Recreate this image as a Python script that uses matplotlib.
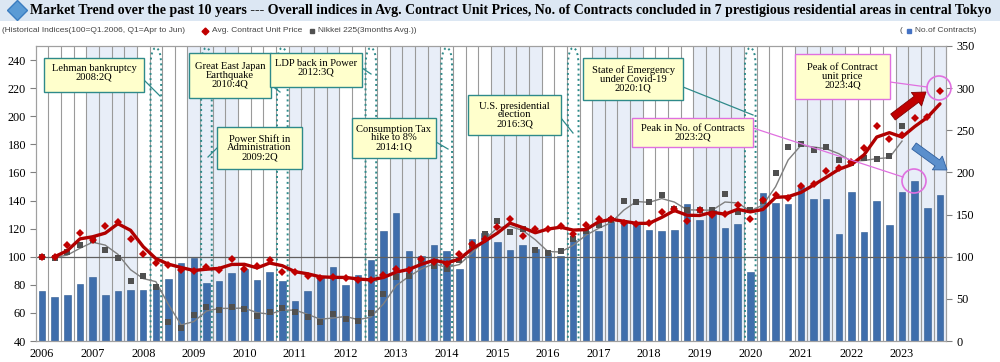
import numpy as np
import pandas as pd
import matplotlib
matplotlib.use('Agg')
import matplotlib.pyplot as plt
from matplotlib.patches import Rectangle, Circle, FancyArrow, PathPatch
from matplotlib.path import Path
from matplotlib.lines import Line2D

# Quarters 2006Q1 .. 2023Q4 (Q1 = Apr to Jun)
years = list(range(2006, 2024))
quarters = ['%dQ%d' % (y, q) for y in years for q in range(1, 5)]

# No. of contracts (right axis)
contracts = [59, 52, 54, 68, 76, 54, 59, 61, 61, 63, 74, 93,
             99, 69, 71, 81, 86, 72, 82, 71, 47, 59, 76, 88,
             66, 78, 96, 130, 152, 107, 101, 114, 107, 86, 121, 128,
             118, 108, 114, 109, 105, 101, 120, 130, 130, 141, 140, 139,
             132, 130, 132, 163, 144, 156, 134, 139, 82, 176, 164, 162,
             184, 168, 168, 127, 177, 129, 166, 138, 177, 190, 158, 173]

# Avg. contract unit price index (100 = Q1.2006)
unit_price = [100, 100, 108.6, 116.8, 111.6, 122, 125, 112.6,
              101.7, 95.6, 93.8, 90.8, 89.6, 92.6, 90.8, 98.2,
              91, 93.1, 97.9, 89.3, 89.4, 86.3, 85.1, 85.5,
              85, 83.3, 83.7, 86.8, 91.3, 90.6, 98.6, 96.5,
              94.6, 102, 109.3, 112.6, 121, 126.8, 114.7, 119.4,
              120, 122, 115.9, 122.7, 126.8, 126.5, 124, 123.5,
              124, 132, 133.8, 125.3, 133.4, 130, 130.5, 137,
              126.8, 140.5, 144, 141.5, 150, 152, 161, 163.4,
              167.7, 177.4, 193, 183.6, 186.8, 198.5, 199.8, 217.8]

# Nikkei 225 (3 months avg.), index
nikkei = [100, 98.9, 103.4, 108.6, 112, 104.5, 98.9, 82.6,
          86.3, 78.2, 53.7, 49.2, 58.4, 64.2, 62.2, 64.3,
          62.6, 57.7, 60.6, 63.2, 60.8, 57.2, 53.8, 58.9,
          56, 54.4, 59.6, 73.3, 85.6, 86.1, 96.7, 93.2,
          91.5, 97.4, 108, 116, 125.3, 117.8, 119.7, 104.5,
          102.9, 103.8, 112.5, 118, 122.3, 126.3, 140, 138.6,
          138.8, 144, 133.8, 133, 133.4, 132.9, 145, 131.5,
          133.6, 140, 159.6, 178.2, 180.2, 176, 177.8, 168.9,
          167, 170, 169.6, 171.4, 193.2, np.nan, np.nan, np.nan]

year_labels = [str(y) for y in years]
event_quarters = ['2008Q2', '2009Q2', '2010Q4', '2012Q3', '2014Q1', '2016Q3', '2020Q1']

BAR = '#3F6EAC'
RED = '#C00000'
GRAY = '#505050'
TEAL = '#2E8A8A'
PINK = '#E070E0'
BOX_FILL = '#FFFFCC'
SERIF = 'Liberation Serif'

W_PX, H_PX = 1000, 362
fig = plt.figure(figsize=(W_PX / 100, H_PX / 100), dpi=100)
fig.patch.set_facecolor('white')


def px(x, y):
    'pixel (from top-left) -> inches for dpi_scale_trans'
    return x / 100.0, (H_PX - y) / 100.0


T = fig.dpi_scale_trans

# title band
fig.add_artist(Rectangle(px(0, 21), 10, 0.21, transform=T, facecolor='#DCE7F3',
                         edgecolor='none', zorder=0))
fig.add_artist(Line2D([px(17, 10)[0]], [px(17, 10)[1]], marker='D', ms=10,
                      color='#5B9BD5', mec='#3C7DC0', transform=T))
fig.text(*px(30, 10.5), 'Market Trend over the past 10 years --- Overall indices in Avg. Contract Unit Prices, '
         'No. of Contracts concluded in 7 prestigious residential areas in central Tokyo',
         transform=T, ha='left', va='center', fontsize=10.0, fontweight='bold', family=SERIF)

# legend row
small = dict(transform=T, ha='left', va='center', fontsize=6.0, color='#444444', family='Liberation Sans')
fig.text(*px(2, 31), '(Historical Indices(100=Q1.2006, Q1=Apr to Jun)', **small)
fig.add_artist(Line2D([px(205, 31)[0]], [px(205, 31)[1]], marker='D', ms=3.5, color=RED, transform=T))
fig.text(*px(212, 31), 'Avg. Contract Unit Price', **small)
fig.add_artist(Line2D([px(312, 31)[0]], [px(312, 31)[1]], marker='s', ms=3.5, color=GRAY, transform=T))
fig.text(*px(318, 31), 'Nikkei 225(3months Avg.))', **small)
fig.text(*px(900, 31), '(', **small)
fig.add_artist(Line2D([px(909, 31)[0]], [px(909, 31)[1]], marker='s', ms=3.5, color='#4472C4', transform=T))
fig.text(*px(915, 31), 'No.of Contracts)', **small)

# axes
left, right, top, bottom = 35.7, 946.3, 46, 341
ax = fig.add_axes([left / W_PX, 1 - bottom / H_PX, (right - left) / W_PX, (bottom - top) / H_PX])
ax2 = ax.twinx()
ax.set_zorder(ax2.get_zorder() + 1)
ax.patch.set_visible(False)
ax2.patch.set_visible(True)
ax2.patch.set_facecolor('white')

x = np.arange(len(quarters))
ax.set_xlim(-0.5, len(quarters) - 0.5)
ax.set_ylim(40, 250)
ax2.set_ylim(0, 350)

# alternate year shading and quarter grid
for k, y in enumerate(years):
    if y % 2 == 1:
        ax2.axvspan(4 * k - 0.5, 4 * k + 3.5, color='#E8EEF8', lw=0, zorder=0)
for b in x[:-1]:
    ax2.axvline(b + 0.5, color='#9A9A9A', lw=0.8, zorder=1)

ax2.bar(x, contracts, width=0.52, color=BAR, edgecolor='#2E5A90', lw=0.4, zorder=2)

ax.axhline(100, color='#606060', lw=0.9, zorder=1)

# event highlight shapes
for q in event_quarters:
    i = quarters.index(q)
    verts = [(i - 0.42, 35), (i - 0.42, 236), (i - 0.42, 253), (i + 0.42, 253),
             (i + 0.42, 236), (i + 0.42, 35)]
    codes = [Path.MOVETO, Path.LINETO, Path.CURVE4, Path.CURVE4, Path.CURVE4, Path.LINETO]
    ax.add_patch(PathPatch(Path(verts, codes), fill=False, edgecolor=TEAL, lw=1.4,
                           ls=':', zorder=2))

nk = pd.Series(nikkei)
up = pd.Series(unit_price)
ax.plot(x, nk.rolling(2).mean(), color='#7F7F7F', lw=1.0, zorder=3)
ax.plot(x, nk, ls='none', marker='s', ms=3.8, mew=0, color=GRAY, zorder=4)
ax.plot(x, up.rolling(2).mean(), color='#B00000', lw=2.4, zorder=5, solid_capstyle='round')
ax.plot(x, up, ls='none', marker='D', ms=3.6, mew=0, color=RED, zorder=6)

# axis styling
for a in (ax, ax2):
    for side in ('top', 'bottom', 'left', 'right'):
        a.spines[side].set_color('#A0A0A0')
ax.set_yticks(range(40, 241, 20))
ax2.set_yticks(range(0, 351, 50))
ax.set_xticks([4 * k for k in range(len(years))])
ax.set_xticklabels(year_labels)
for lab in ax.get_yticklabels() + ax.get_xticklabels() + ax2.get_yticklabels():
    lab.set_fontfamily(SERIF)
    lab.set_fontsize(8.8)
ax.tick_params(axis='y', direction='out', length=4, width=0.8, color='#808080', pad=3)
ax2.tick_params(axis='y', direction='out', length=4, width=0.8, color='#808080', pad=3)
ax.tick_params(axis='x', length=0, pad=5)

# callout boxes
annotations = [
    ((44, 58, 144, 92), 'Lehman bankruptcy\n2008:2Q', TEAL, ((144, 80), (160, 96))),
    ((189, 53, 271, 98), 'Great East Japan\nEarthquake\n2010:4Q', TEAL, ((271, 85), (280, 92))),
    ((270, 53, 362, 87), 'LDP back in Power\n2012:3Q', TEAL, ((362, 68), (371, 74))),
    ((217, 127, 302, 169), 'Power Shift in\nAdministration\n2009:2Q', TEAL, ((217, 148), (208, 157))),
    ((352, 118, 436, 158), 'Consumption Tax\nhike to 8%\n2014:1Q', TEAL, ((436, 142), (448, 149))),
    ((468, 95, 561, 135), 'U.S. presidential\nelection\n2016:3Q', TEAL, ((561, 118), (573, 133))),
    ((583, 58, 683, 100), 'State of Emergency\nunder Covid-19\n2020:1Q', TEAL, ((683, 87), (753, 115))),
    ((632, 118, 753, 147), 'Peak in No. of Contracts\n2023:2Q', PINK, ((753, 128), (903, 177))),
    ((795, 54, 890, 99), 'Peak of Contract\nunit price\n2023:4Q', PINK, ((890, 82), (927, 87))),
]
for (x0, y0, x1, y1), text, edge, ((lx0, ly0), (lx1, ly1)) in annotations:
    a0, b0 = px(lx0, ly0)
    a1, b1 = px(lx1, ly1)
    fig.add_artist(Line2D([a0, a1], [b0, b1], transform=T, color=edge, lw=0.9, zorder=2))
    fig.add_artist(Rectangle(px(x0, y1), (x1 - x0) / 100, (y1 - y0) / 100, transform=T,
                             facecolor=BOX_FILL, edgecolor=edge, lw=1.0, zorder=3))
    cy = (y0 + y1) / 2 if text.count('\n') > 1 or edge == PINK else y0 + 15
    fig.text(*px((x0 + x1) / 2, cy), text, transform=T, ha='center', va='center',
             fontsize=7.6, family=SERIF, linespacing=0.95, zorder=4)

# highlight circles and arrows
for cx, cy in [(939, 88), (914, 181)]:
    fig.add_artist(Circle(px(cx, cy), 0.12, transform=T, fill=False, edgecolor=PINK, lw=1.2, zorder=5))
sx, sy = px(893, 117)
ex, ey = px(926, 92)
fig.add_artist(FancyArrow(sx, sy, ex - sx, ey - sy, width=0.075, head_width=0.17, head_length=0.12,
                          length_includes_head=True, transform=T, facecolor=RED,
                          edgecolor='#800000', lw=0.6, zorder=5))
sx, sy = px(914, 146)
ex, ey = px(947, 170)
fig.add_artist(FancyArrow(sx, sy, ex - sx, ey - sy, width=0.075, head_width=0.17, head_length=0.12,
                          length_includes_head=True, transform=T, facecolor='#5B8FCC',
                          edgecolor='#2F5F9F', lw=0.6, zorder=5))

fig.savefig('out.png', dpi=100)
